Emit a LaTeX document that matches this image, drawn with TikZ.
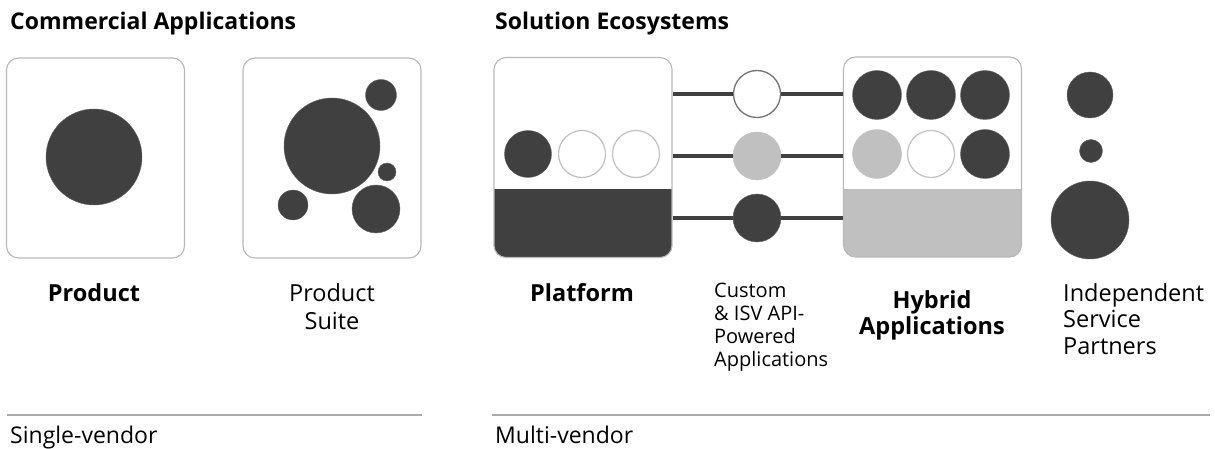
\documentclass[tikz,border=0pt]{standalone}
\usepackage{fontspec}
\setmainfont{Open Sans}
\usepackage{tikz}
\usetikzlibrary{positioning,calc}

\definecolor{darkdot}{HTML}{404040}
\definecolor{lightdot}{HTML}{C0C0C0}
\definecolor{frame}{HTML}{B8B8B8}
\definecolor{rulegrey}{HTML}{ABABAB}

\begin{document}
\begin{tikzpicture}[
  x=1pt, y=-1pt,
  panel/.style={rectangle, rounded corners=12pt, draw=frame, line width=1.1pt,
                minimum width=178pt, minimum height=200pt, inner sep=0},
  lowerfill/.style={path picture={\fill[#1, sharp corners] (path picture bounding box.south west)
                rectangle ([yshift=68pt]path picture bounding box.south east);}},
  blob/.style={circle, fill=darkdot, draw=darkdot!80, line width=0.4pt, inner sep=0, minimum size=#1},
  greyblob/.style={circle, fill=lightdot, draw=lightdot, inner sep=0, minimum size=#1},
  hollow/.style={circle, fill=white, draw=lightdot, line width=1.2pt, inner sep=0, minimum size=#1},
  ring/.style={circle, fill=white, draw=black!55, line width=1.3pt, inner sep=0, minimum size=#1},
  link/.style={draw=darkdot, line width=4pt},
  head/.style={font=\fontsize{23}{27}\selectfont\bfseries, anchor=base west, inner sep=0},
  lbl/.style={font=\fontsize{23.5}{28}\selectfont, align=center, anchor=north, inner sep=0},
  blbl/.style={font=\fontsize{23.5}{26}\selectfont\bfseries, align=center, anchor=north, inner sep=0},
  sep/.style={draw=rulegrey, line width=1.5pt},
]

\useasboundingbox (0,0) rectangle (1215,449);

% headings
\node[head] (hcomm) at (10,30) {Commercial Applications};
\node[head] (hsol)  at (495,30) {Solution Ecosystems};

% panels
\node[panel] (prod)  at (95.5,158) {};
\node[panel] (suite) at (332,158) {};
\node[panel, lowerfill=darkdot]  (plat)   at (583,157.5) {};
\node[panel, lowerfill=lightdot] (hybrid) at (932.5,157) {};

% product
\node[blob=96pt] (pcore) at (94,157) {};

% product suite
\node[blob=96pt] (score) at (332,146) {};
\node[blob=31pt] (sa) at (381,95) {};
\node[blob=18pt] (sb) at (387,172) {};
\node[blob=30pt] (sc) at (293,205) {};
\node[blob=48pt] (sd) at (376,209) {};

% platform row
\node[blob=47pt]   (pl1) at (528,154) {};
\node[hollow=47pt] (pl2) at (582,154) {};
\node[hollow=47pt] (pl3) at (636,154) {};

% connectors through the API apps
\node[ring=47pt]     (api1) at (757,94) {};
\node[greyblob=48pt] (api2) at (757,156) {};
\node[blob=48pt]     (api3) at (757,218) {};
\foreach \i in {1,2,3}{
  \draw[link] (plat.east |- api\i) -- (api\i.west);
  \draw[link] (api\i.east) -- (hybrid.west |- api\i);
}

% hybrid rows
\node[blob=49pt] (hy1) at (877,95) {};
\node[blob=49pt] (hy2) at (931,95) {};
\node[blob=49pt] (hy3) at (985,95) {};
\node[greyblob=49pt] (hy4) at (877,154) {};
\node[hollow=47pt]   (hy5) at (931,154) {};
\node[blob=49pt]     (hy6) at (985,154) {};

% service partners
\node[blob=46pt] (isp1) at (1090,95) {};
\node[blob=23pt] (isp2) at (1091,151) {};
\node[blob=78pt] (isp3) at (1090,220) {};

% labels
\node[blbl] (lprod)  at (94,283) {Product};
\node[lbl]  (lsuite) at (332,283) {Product\\Suite};
\node[blbl] (lplat)  at (582,283) {Platform};
\node[font=\fontsize{20}{23}\selectfont, align=left, anchor=north west, inner sep=0] (lapi) at (714,283)
  {Custom\\\& ISV API-\\Powered\\Applications};
\node[blbl] (lhyb)   at (932,290) {Hybrid\\Applications};
\node[font=\fontsize{23.5}{26.5}\selectfont, align=left, anchor=north west, inner sep=0] (lisp) at (1063,283)
  {Independent\\Service\\Partners};

% vendor rules
\draw[sep] (7,415) -- (422,415);
\draw[sep] (492,415) -- (1210,415);
\node[font=\fontsize{23}{27}\selectfont, anchor=base west, inner sep=0] (single) at (10,443) {Single-vendor};
\node[font=\fontsize{23}{27}\selectfont, anchor=base west, inner sep=0] (multi)  at (495,443) {Multi-vendor};

\end{tikzpicture}
\end{document}
